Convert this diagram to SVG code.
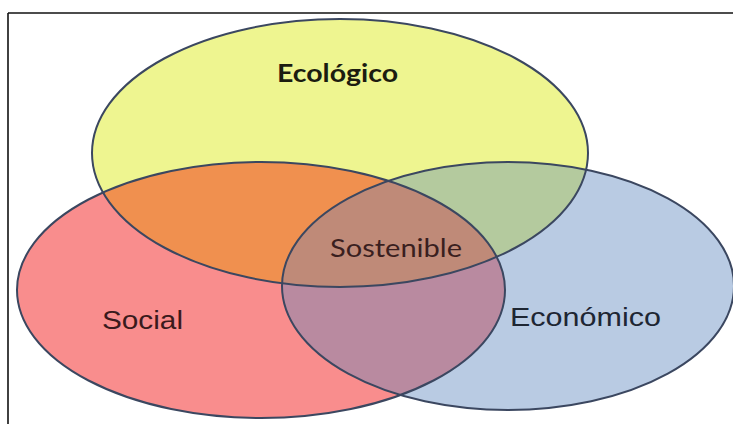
<svg xmlns="http://www.w3.org/2000/svg" width="733" height="424" viewBox="0 0 733 424">
  <style>
    .outline { fill: none; stroke: #3b4760; stroke-width: 2; }
    .lbl { font-family: "Liberation Sans", Arial, sans-serif; font-size: 26px; }
    .lbl-bold { font-family: Lato, "Open Sans", sans-serif; font-weight: bold; font-size: 24px; }
  </style>
  <defs>
    <ellipse id="shape-eco" cx="340" cy="153" rx="248" ry="134"/>
    <ellipse id="shape-soc" cx="261" cy="290" rx="244" ry="128"/>
    <ellipse id="shape-ecn" cx="508" cy="286" rx="226" ry="124"/>
    <clipPath id="clip-eco"><use href="#shape-eco"/></clipPath>
    <clipPath id="clip-soc"><use href="#shape-soc"/></clipPath>
    <clipPath id="clip-ecn"><use href="#shape-ecn"/></clipPath>
  </defs>

  <rect width="733" height="424" fill="#ffffff"/>

  <!-- frame: top and left rules only -->
  <g id="frame" stroke="#111111" stroke-width="1.6" fill="none">
    <line x1="8" y1="13" x2="733" y2="13"/>
    <line x1="8" y1="13" x2="8" y2="424"/>
  </g>

  <!-- base fills of the three sets -->
  <g id="ecologico">
    <use href="#shape-eco" fill="#eef590"/>
  </g>
  <g id="social">
    <use href="#shape-soc" fill="#f98d8d"/>
  </g>
  <g id="economico">
    <use href="#shape-ecn" fill="#b9cbe3"/>
  </g>

  <!-- overlap regions -->
  <g id="overlaps">
    <g clip-path="url(#clip-eco)"><use href="#shape-soc" fill="#f0904f"/></g>
    <g clip-path="url(#clip-eco)"><use href="#shape-ecn" fill="#b4ca9e"/></g>
    <g clip-path="url(#clip-soc)"><use href="#shape-ecn" fill="#b98aa0"/></g>
    <g clip-path="url(#clip-soc)"><g clip-path="url(#clip-eco)"><use href="#shape-ecn" fill="#bf8a78"/></g></g>
  </g>

  <!-- outlines -->
  <g id="outlines">
    <use href="#shape-eco" class="outline"/>
    <use href="#shape-soc" class="outline"/>
    <use href="#shape-ecn" class="outline"/>
  </g>

  <!-- labels -->
  <g id="labels">
    <text class="lbl-bold" x="277" y="82" fill="#1c1c10" textLength="121" lengthAdjust="spacingAndGlyphs">Ecológico</text>
    <text x="330" y="257" fill="#3a1f1f" font-family="Lato, 'Open Sans', sans-serif" font-size="25" textLength="132" lengthAdjust="spacingAndGlyphs">Sostenible</text>
    <text class="lbl" x="102" y="329" fill="#3a1a1c" textLength="81" lengthAdjust="spacingAndGlyphs">Social</text>
    <text class="lbl" x="510" y="326" fill="#1e2633" textLength="151" lengthAdjust="spacingAndGlyphs">Económico</text>
  </g>
</svg>
